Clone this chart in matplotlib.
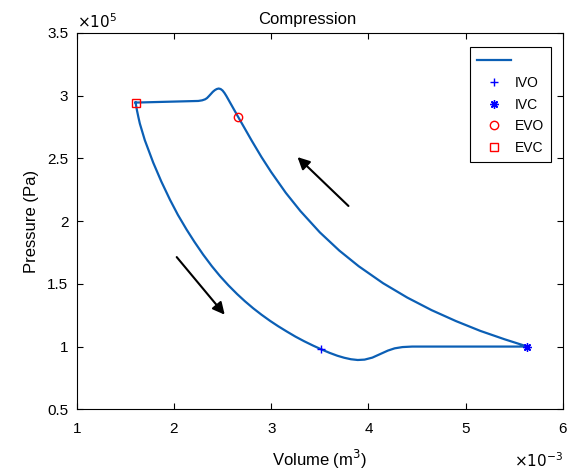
import matplotlib.pyplot as plt

plt.rcParams['font.family'] = ['Liberation Sans', 'DejaVu Sans']

# cycle path, volume in 1e-3 m^3, pressure in 1e5 Pa
# lower branch: EVC -> IVO -> dip -> IVC
vol_low = [1.605, 1.62, 1.635, 1.649, 1.70, 1.787, 1.87, 1.959, 2.04, 2.13, 2.21,
           2.30, 2.39, 2.473, 2.56, 2.65, 2.73, 2.815, 2.90, 2.99, 3.07, 3.158,
           3.25, 3.34, 3.43, 3.515, 3.60, 3.68, 3.75, 3.82, 3.89, 3.96, 4.04,
           4.12, 4.20, 4.27, 4.35, 4.45, 5.0, 5.635]
p_low = [2.944, 2.88, 2.825, 2.777, 2.645, 2.465, 2.315, 2.17, 2.05, 1.932, 1.835,
         1.733, 1.64, 1.562, 1.488, 1.418, 1.361, 1.305, 1.254, 1.204, 1.163, 1.121,
         1.079, 1.042, 1.008, 0.978, 0.950, 0.927, 0.911, 0.899, 0.893, 0.896, 0.912,
         0.94, 0.968, 0.986, 0.996, 1.0, 1.0, 1.0]
# upper branch: IVC -> EVO -> peak -> EVC
vol_up = [5.635, 5.40, 5.15, 4.90, 4.65, 4.40, 4.15, 3.90, 3.70, 3.50, 3.30,
          3.15, 3.00, 2.90, 2.80, 2.73, 2.66, 2.62, 2.58, 2.54, 2.52, 2.50,
          2.48, 2.46, 2.44, 2.42, 2.40, 2.38, 2.36, 2.34, 2.32, 2.29, 2.25,
          2.0, 1.8, 1.605]
p_up = [1.0, 1.058, 1.125, 1.203, 1.29, 1.39, 1.505, 1.64, 1.765, 1.91, 2.08,
        2.225, 2.39, 2.51, 2.64, 2.735, 2.83, 2.885, 2.94, 2.995, 3.02, 3.04,
        3.052, 3.056, 3.052, 3.043, 3.03, 3.013, 2.996, 2.98, 2.97, 2.962, 2.957,
        2.952, 2.948, 2.944]

events = ['IVO', 'IVC', 'EVO', 'EVC']
ev_vol = [3.515, 5.635, 2.66, 1.605]
ev_p = [0.978, 1.0, 2.83, 2.944]
ev_marker = ['+', (8, 2, 0), 'o', 's']
ev_color = ['blue', 'blue', 'red', 'red']

fig = plt.figure(figsize=(5.7, 4.7), dpi=100)
ax = fig.add_axes([0.1346, 0.1291, 0.853, 0.8011])

ax.plot(vol_low + vol_up[1:], p_low + p_up[1:], color='#0b5fb5', lw=1.6, label=' ')
for name, v, p, m, c in zip(events, ev_vol, ev_p, ev_marker, ev_color):
    ax.plot(v, p, linestyle='none', marker=m, markersize=6, markerfacecolor='none',
            markeredgecolor=c, markeredgewidth=1.0, label=name)

# direction arrows
ax.annotate('', xy=(3.25, 2.525), xytext=(3.815, 2.105),
            arrowprops=dict(arrowstyle='-|>', color='black', lw=1.5, mutation_scale=18))
ax.annotate('', xy=(2.54, 1.237), xytext=(2.01, 1.73),
            arrowprops=dict(arrowstyle='-|>', color='black', lw=1.5, mutation_scale=18))

ax.set_xlim(1, 6)
ax.set_ylim(0.5, 3.5)
ax.set_xticks([1, 2, 3, 4, 5, 6])
ax.set_xticklabels(['1', '2', '3', '4', '5', '6'])
ax.set_yticks([0.5, 1, 1.5, 2, 2.5, 3, 3.5])
ax.set_yticklabels(['0.5', '1', '1.5', '2', '2.5', '3', '3.5'])
ax.tick_params(direction='in', top=True, right=True, labelsize=11, length=4)
ax.tick_params(axis='x', pad=9)
ax.tick_params(axis='y', pad=6)
for s in ax.spines.values():
    s.set_linewidth(0.8)

ax.set_xlabel('Volume (m$^3$)', fontsize=12, labelpad=9)
ax.set_ylabel('Pressure (Pa)', fontsize=12, labelpad=6)
ax.set_title('Compression', fontsize=12, pad=6, x=0.475)
ax.text(0.0, 1.005, r'$\times10^5$', transform=ax.transAxes, fontsize=11,
        ha='left', va='bottom', math_fontfamily='dejavusans')
ax.text(1.0, -0.112, r'$\times10^{-3}$', transform=ax.transAxes, fontsize=11,
        ha='right', va='top', math_fontfamily='dejavusans')

leg = ax.legend(loc='upper right', bbox_to_anchor=(0.99, 0.98), fontsize=10,
                fancybox=False, edgecolor='black', framealpha=1, handlelength=2.45,
                borderpad=0.5, labelspacing=0.55, handletextpad=0.25)
leg.get_frame().set_linewidth(0.8)

fig.savefig('out.png', dpi=100)
